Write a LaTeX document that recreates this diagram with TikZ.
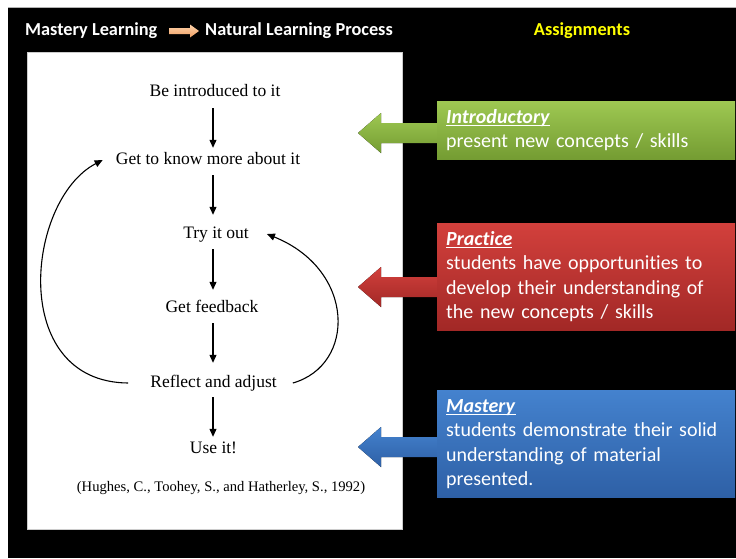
\documentclass[tikz,border=0pt]{standalone}
\usepackage{fontspec}
\setmainfont{Carlito}[Ligatures=NoCommon]
\newfontfamily\panelfont{Liberation Serif}
\usetikzlibrary{arrows.meta}
\definecolor{gtop}{RGB}{158,200,82}
\definecolor{gbot}{RGB}{116,156,50}
\definecolor{rtop}{RGB}{210,64,60}
\definecolor{rbot}{RGB}{162,40,38}
\definecolor{btop}{RGB}{68,130,206}
\definecolor{bbot}{RGB}{46,96,166}
\definecolor{otop}{RGB}{253,210,170}
\definecolor{obot}{RGB}{240,160,100}
\definecolor{hdyellow}{RGB}{255,255,0}
\newcommand{\ulbox}[1]{\setbox0\hbox{#1}\rlap{\rule[-2.6pt]{\wd0}{1.1pt}}\box0}
\begin{document}
\begin{tikzpicture}[x=1pt,y=-1pt,
  stepnode/.style={font=\panelfont\fontsize{17.5}{20}\selectfont, inner sep=0pt, text height=12pt, text depth=4pt, anchor=base},
  citenode/.style={font=\panelfont\fontsize{14.6}{17}\selectfont, inner sep=0pt, anchor=base},
  flow/.style={-{Triangle[length=8pt,width=7pt]}, line width=1.1pt},
  loopline/.style={-{Triangle[length=8pt,width=7pt]}, line width=1.1pt},
  hdr/.style={font=\bfseries\fontsize{18.3}{21}\selectfont, inner sep=0pt},
  abox/.style={anchor=north west, minimum width=298pt, inner sep=0pt, draw=none},
  atext/.style={font=\fontsize{20}{24.5}\selectfont, text=white, align=left, text width=290pt, inner sep=0pt, anchor=base west},
]
\useasboundingbox (0,0) rectangle (736,558);
\fill[white] (0,0) rectangle (736,558);
\fill[black] (8,7) rectangle (736,558);
\draw[gray!60, line width=0.8pt] (8,7) -- (736,7);
% white panel
\fill[white] (27,52) rectangle (402,529);
\draw[gray!40, line width=0.6pt] (27,52) rectangle (402,529);

% header
\node[hdr, text=white, anchor=west] (h1) at (25,31) {Mastery Learning};
\node[hdr, text=white, anchor=west] (h2) at (205,31) {Natural Learning Process};
\node[hdr, text=hdyellow] (h3) at (582,31) {Assignments};
\fill[top color=otop, bottom color=obot] (169,28) -- (190,28) -- (190,24.5) -- (199,31) -- (190,37.5) -- (190,34) -- (169,34) -- cycle;

% flow in the panel
\coordinate (col) at (213,0);
\node[stepnode] (n1) at (215,96) {Be introduced to it};
\node[stepnode] (n2) at (208,164) {Get to know more about it};
\node[stepnode] (n3) at (216,238) {Try it out};
\node[stepnode] (n4) at (212,312) {Get feedback};
\node[stepnode] (n5) at (213.5,387) {Reflect and adjust};
\node[stepnode] (n6) at (213.5,453) {Use it!};
\node[citenode] (cite) at (221,491) {(Hughes, C., Toohey, S., and Hatherley, S., 1992)};

\draw[flow, shorten <=8pt, shorten >=4pt] (n1.south -| col) -- (n2.north -| col);
\draw[flow, shorten <=7pt, shorten >=11pt] (n2.south -| col) -- (n3.north -| col);
\draw[flow, shorten <=7pt, shorten >=10pt] (n3.south -| col) -- (n4.north -| col);
\draw[flow, shorten <=7pt, shorten >=12pt] (n4.south -| col) -- (n5.north -| col);
\draw[flow, shorten <=6pt, shorten >=4pt] (n5.south -| col) -- (n6.north -| col);

\draw[loopline] ([xshift=-22pt]n5.west) .. controls (8,382) and (26,200) .. ([xshift=-13pt]n2.west);
\draw[loopline] ([xshift=16pt]n5.east) .. controls (356,365) and (356,270) .. ([xshift=18pt]n3.east);

% block arrows
\fill[top color=gtop, bottom color=gbot] (358,133) -- (381,113) -- (381,123) -- (445,123) -- (445,143) -- (381,143) -- (381,153) -- cycle;
\fill[top color=rtop, bottom color=rbot] (358,287) -- (381,267) -- (381,277) -- (445,277) -- (445,297) -- (381,297) -- (381,307) -- cycle;
\fill[top color=btop, bottom color=bbot] (358,447) -- (381,427) -- (381,437) -- (445,437) -- (445,457) -- (381,457) -- (381,467) -- cycle;

% assignment boxes
\node[abox, minimum height=58pt, top color=gtop, bottom color=gbot] (gbox) at (437,101) {};
\node[abox, minimum height=107pt, top color=rtop, bottom color=rbot] (rbox) at (437,223) {};
\node[abox, minimum height=107pt, top color=btop, bottom color=bbot] (bbox) at (437,390) {};

\node[atext] (gtxt) at (446,123) {\ulbox{\textbf{\textit{Introductory}}}\\present new concepts / skills};
\node[atext] (rtxt) at (446,245) {\ulbox{\textbf{\textit{Practice}}}\\students have opportunities to\\develop their understanding of\\the new concepts / skills};
\node[atext] (btxt) at (446,412) {\ulbox{\textbf{\textit{Mastery}}}\\students demonstrate their solid\\understanding of material\\presented.};
\end{tikzpicture}
\end{document}
